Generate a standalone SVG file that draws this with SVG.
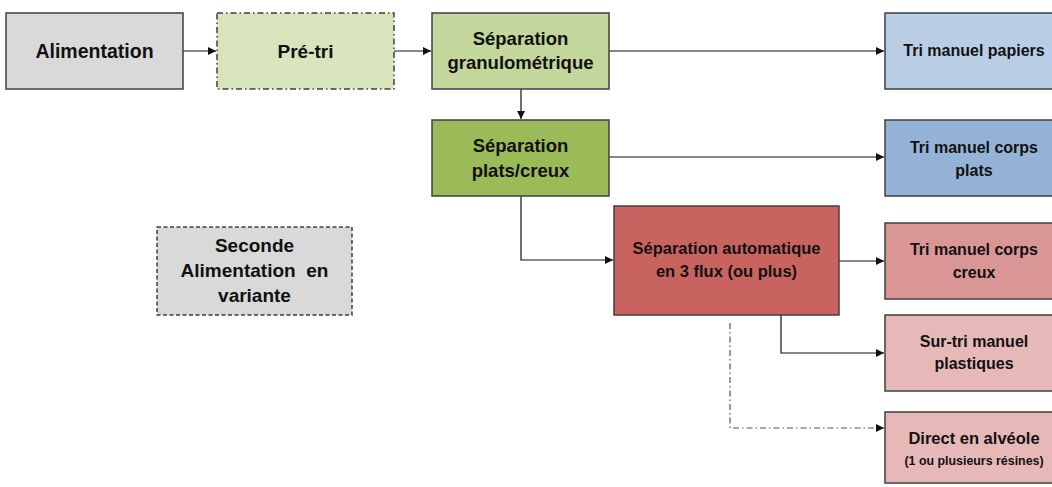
<svg xmlns="http://www.w3.org/2000/svg" width="1052" height="487" viewBox="0 0 1052 487">
<style>
.box{stroke:#3f3f3f;stroke-width:1.5}
.t{font-family:"Liberation Sans",Arial,sans-serif;font-weight:bold;fill:#111;text-anchor:middle}
.c{fill:none;stroke:#111;stroke-width:1.2}
</style>
<defs>
<marker id="ah" viewBox="0 0 10 10" refX="10" refY="5" markerWidth="8" markerHeight="8" markerUnits="userSpaceOnUse" orient="auto">
<path d="M0,0 L10,5 L0,10 z" fill="#111"/>
</marker>
</defs>
<rect width="1052" height="487" fill="#fff"/>
<g id="connectors">
<line class="c" x1="183" y1="51" x2="216" y2="51" marker-end="url(#ah)"/>
<line class="c" x1="394" y1="51" x2="431" y2="51" marker-end="url(#ah)"/>
<line class="c" x1="609" y1="51" x2="884" y2="51" marker-end="url(#ah)"/>
<line class="c" x1="521" y1="89" x2="521" y2="119" marker-end="url(#ah)"/>
<line class="c" x1="609" y1="157" x2="884" y2="157" marker-end="url(#ah)"/>
<polyline class="c" points="521,196 521,260 613,260" marker-end="url(#ah)"/>
<line class="c" x1="839" y1="261" x2="884" y2="261" marker-end="url(#ah)"/>
<polyline class="c" points="781,315 781,353 884,353" marker-end="url(#ah)"/>
<polyline class="c" points="730,323 730,428 884,428" stroke-dasharray="6 3 1.5 3" style="stroke:#555" marker-end="url(#ah)"/>
</g>
<g id="alimentation">
<rect class="box" x="6" y="13" width="177" height="76" fill="#d9d9d9"/>
<text class="t" x="94.5" y="58" font-size="19.5">Alimentation</text>
</g>
<g id="pretri">
<rect class="box" x="217" y="13" width="177" height="76" fill="#d8e4bc" stroke-dasharray="6 3 1.5 3"/>
<text class="t" x="305.5" y="58" font-size="19">Pré-tri</text>
</g>
<g id="granulo">
<rect class="box" x="432" y="13" width="177" height="76" fill="#c3d69b"/>
<text class="t" x="520.5" y="45" font-size="18.5">Séparation</text>
<text class="t" x="520.5" y="69" font-size="18.5">granulométrique</text>
</g>
<g id="platscreux">
<rect class="box" x="432" y="120" width="177" height="76" fill="#9bbb59"/>
<text class="t" x="520.5" y="152" font-size="18.5">Séparation</text>
<text class="t" x="520.5" y="177" font-size="18.5">plats/creux</text>
</g>
<g id="seconde">
<rect class="box" x="157" y="227" width="195" height="88" fill="#d9d9d9" stroke-dasharray="4 2.5"/>
<text class="t" x="254.5" y="252" font-size="19">Seconde</text>
<text class="t" x="254.5" y="277" font-size="19" xml:space="preserve">Alimentation  en</text>
<text class="t" x="254.5" y="302" font-size="19">variante</text>
</g>
<g id="auto">
<rect class="box" x="614" y="206" width="225" height="109" fill="#c9635f"/>
<text class="t" x="726.5" y="254" font-size="16.5">Séparation automatique</text>
<text class="t" x="726.5" y="277" font-size="16.5">en 3 flux (ou plus)</text>
</g>
<g id="papiers">
<rect class="box" x="885" y="13" width="178" height="76" fill="#b9cde5"/>
<text class="t" x="974" y="56" font-size="16">Tri manuel papiers</text>
</g>
<g id="corpsplats">
<rect class="box" x="885" y="120" width="178" height="76" fill="#95b3d7"/>
<text class="t" x="974" y="153" font-size="16">Tri manuel corps</text>
<text class="t" x="974" y="176" font-size="16">plats</text>
</g>
<g id="corpscreux">
<rect class="box" x="885" y="223" width="178" height="76" fill="#da9694"/>
<text class="t" x="974" y="255" font-size="16">Tri manuel corps</text>
<text class="t" x="974" y="278" font-size="16">creux</text>
</g>
<g id="surtri">
<rect class="box" x="885" y="315" width="178" height="76" fill="#e6b9b8"/>
<text class="t" x="974" y="347" font-size="16">Sur-tri manuel</text>
<text class="t" x="974" y="369" font-size="16">plastiques</text>
</g>
<g id="direct">
<rect class="box" x="885" y="412" width="178" height="71" fill="#e6b9b8"/>
<text class="t" x="974" y="444" font-size="16.5">Direct en alvéole</text>
<text class="t" x="974" y="465" font-size="12.4">(1 ou plusieurs résines)</text>
</g>
</svg>
